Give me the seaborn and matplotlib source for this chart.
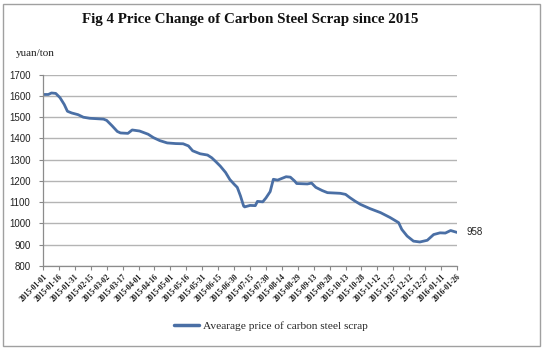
import matplotlib
matplotlib.use("Agg")
import matplotlib.pyplot as plt
from matplotlib.patches import Rectangle
import seaborn as sns
import pandas as pd

# ---- data ----
start_date = "2015-01-01"
day_offset = [0, 5, 8, 12, 16, 20, 23, 27, 33, 38, 44, 57, 60, 65, 70, 73, 80, 84,
              91, 99, 104, 110, 117, 125, 132, 137, 141, 148, 155, 159, 163, 167,
              172, 176, 180, 183, 186, 189, 190, 195, 200, 202, 207, 210, 214, 217,
              221, 225, 229, 233, 237, 239, 249, 253, 257, 263, 268, 280, 285, 289,
              294, 299, 308, 318, 327, 335, 338, 343, 349, 355, 362, 368, 374, 379,
              384, 390]
price = [1607, 1607, 1614, 1612, 1592, 1560, 1528, 1520, 1512, 1500, 1495, 1491,
         1485, 1460, 1433, 1426, 1424, 1440, 1435, 1420, 1404, 1390, 1379, 1376,
         1375, 1365, 1342, 1328, 1322, 1309, 1290, 1270, 1240, 1207, 1185, 1170,
         1130, 1082, 1078, 1085, 1084, 1104, 1102, 1120, 1150, 1208, 1204, 1212,
         1220, 1218, 1200, 1188, 1186, 1190, 1170, 1155, 1145, 1142, 1137, 1122,
         1105, 1090, 1070, 1051, 1028, 1004, 972, 941, 917, 913, 921, 948, 956,
         955, 967, 958]
series_name = "Avearage price of carbon steel scrap"
title = "Fig 4 Price Change of Carbon Steel Scrap since 2015"
unit_label = "yuan/ton"
last_label = "958"
y_ticks = [800, 900, 1000, 1100, 1200, 1300, 1400, 1500, 1600, 1700]
x_tick_start = "2015-01-01"
x_tick_end = "2016-01-26"
x_tick_step_days = 15

dates = pd.Timestamp(start_date) + pd.to_timedelta(day_offset, unit="D")
df = pd.DataFrame({"date": dates, "price": price, "series": series_name})

sns.set_theme(style="white")
plt.rcParams["font.family"] = ["Liberation Sans", "DejaVu Sans"]

fig = plt.figure(figsize=(5.44, 3.49), dpi=100)
ax = fig.add_axes([43/544, 1-266/349, (457-43)/544, (266-74.7)/349])

line_color = "#4a6fa5"
sns.lineplot(data=df, x="date", y="price", ax=ax, color=line_color,
             linewidth=2.0, label=series_name, legend=False)

# axes styling
ax.set_ylim(800, 1700)
ax.set_yticks(y_ticks)
ax.set_xlim(pd.Timestamp(x_tick_start), pd.Timestamp(x_tick_end))
xt = pd.date_range(x_tick_start, x_tick_end, freq=f"{x_tick_step_days}D")
ax.set_xticks(xt)
ax.set_xticklabels([d.strftime("%Y-%m-%d") for d in xt], rotation=45, ha="right",
                   rotation_mode="anchor", fontsize=5.5, fontweight="bold",
                   family="Liberation Serif", color="#1a1a1a")
ax.xaxis.set_tick_params(pad=2)
ax.tick_params(axis="y", labelsize=7, colors="#222222", pad=6, length=3,
               width=0.8, direction="out", left=True)
ax.tick_params(axis="x", length=3, width=0.8, direction="out", bottom=True,
               color="#888888")
ax.tick_params(axis="y", color="#888888")
ax.set_xlabel("")
ax.set_ylabel("")
ax.grid(axis="y", color="#b4b4b4", linewidth=1.0)
ax.grid(axis="x", visible=False)
for s in ["top", "right"]:
    ax.spines[s].set_visible(False)
for s in ["left", "bottom"]:
    ax.spines[s].set_color("#8c8c8c")
    ax.spines[s].set_linewidth(0.9)

# annotation for the last value
ax.annotate(last_label, xy=(dates[-1], price[-1]), xytext=(6.5, 0),
            textcoords="offset points", va="center", ha="left", fontsize=7,
            color="#222222")

# title and unit label
fig.text(250/544, 1-20/349, title, ha="center", va="center", fontsize=10.8,
         fontweight="bold", family="Liberation Serif", color="#111111")
fig.text(16/544, 1-54/349, unit_label, ha="left", va="center", fontsize=8,
         family="Liberation Serif", color="#222222")

# legend
handles, labels = ax.get_legend_handles_labels()
leg = fig.legend(handles, labels, loc="center", bbox_to_anchor=(271/544, 1-326/349),
                 frameon=False, handlelength=2.2, handletextpad=0.4,
                 prop={"family": "Liberation Serif", "size": 8.2})
for lh in leg.get_lines():
    lh.set_linewidth(2.5)

# outer frame
fig.patches.append(Rectangle((3/544, 3/349), 537/544, 342/349, transform=fig.transFigure,
                             fill=False, edgecolor="#a0a0a0", linewidth=1.0))

fig.savefig("out.png", dpi=100)
